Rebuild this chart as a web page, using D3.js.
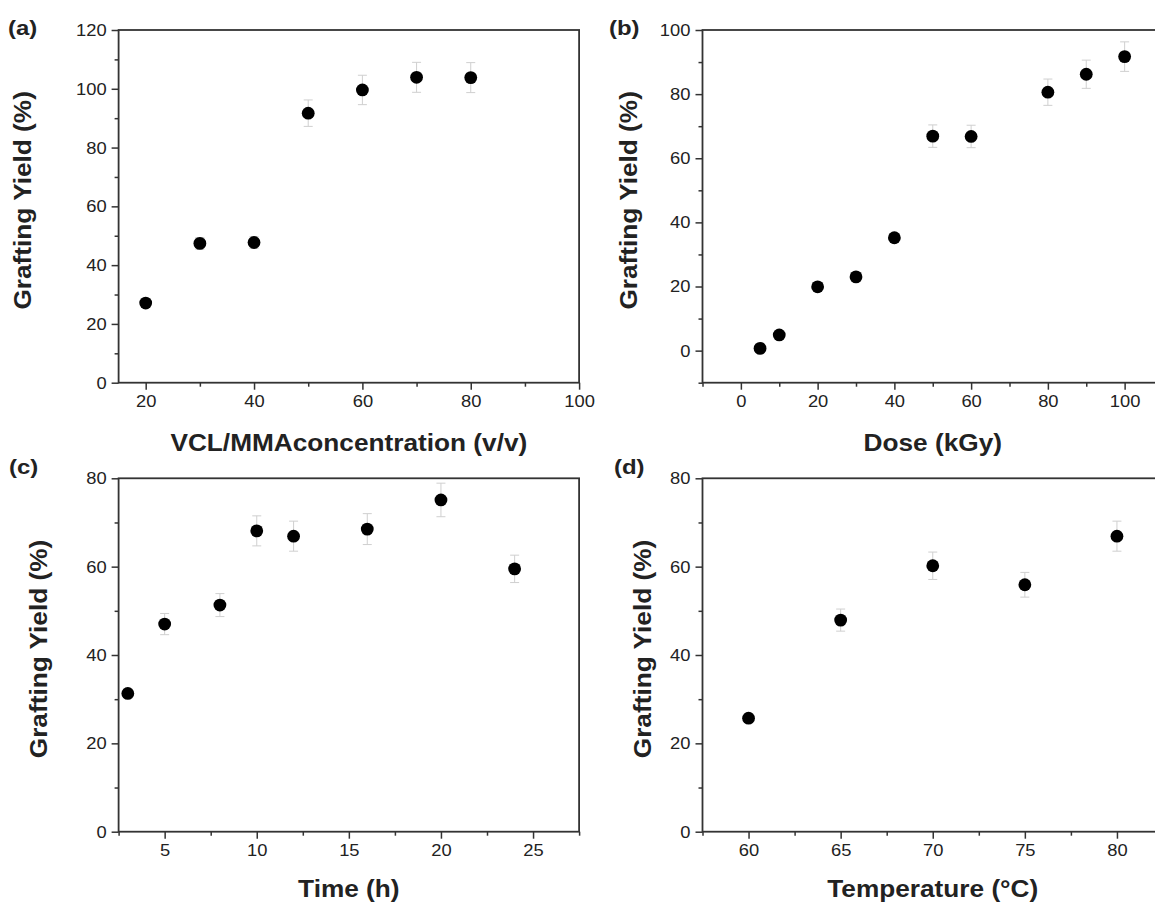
<!DOCTYPE html>
<html>
<head>
<meta charset="utf-8">
<script src="https://cdn.jsdelivr.net/npm/d3@7"></script>
<style>
    body { margin: 0; background: #fff; }
    svg text { font-family: "Liberation Sans", Arial, sans-serif; fill: #222; }
    .tick-label { font-size: 17px; }
    .axis-title { font-size: 23px; font-weight: bold; }
    .panel-label { font-size: 21px; font-weight: bold; }
</style>
</head>
<body>
<div id="chart"></div>
<script>
// (a) VCL/MMA concentration
let concX = [20, 30, 40, 50, 60, 70, 80];
let concY = [27.1, 47.4, 47.7, 91.7, 99.6, 103.9, 103.8];
let concErr = [1.5, 2, 2, 4.5, 5, 5.1, 5.1];

// (b) dose
let doseX = [5, 10, 20, 30, 40, 50, 60, 80, 90, 100];
let doseY = [0.7, 4.9, 19.9, 23.0, 35.2, 66.9, 66.8, 80.6, 86.2, 91.7];
let doseErr = [1, 1, 1, 1, 1, 3.5, 3.5, 4.1, 4.4, 4.6];

// (c) time
let timeX = [3, 5, 8, 10, 12, 16, 20, 24];
let timeY = [31.3, 47.0, 51.3, 68.1, 66.9, 68.5, 75.1, 59.5];
let timeErr = [1, 2.4, 2.6, 3.4, 3.4, 3.5, 3.8, 3.1];

// (d) temperature
let tempX = [60, 65, 70, 75, 80];
let tempY = [25.7, 47.9, 60.2, 55.9, 66.9];
let tempErr = [1, 2.5, 3.1, 2.8, 3.4];

// tick values
let concXTicks = [20, 40, 60, 80, 100], concXMinor = [30, 50, 70, 90];
let concYTicks = [0, 20, 40, 60, 80, 100, 120], concYMinor = [10, 30, 50, 70, 90, 110];
let doseXTicks = [0, 20, 40, 60, 80, 100], doseXMinor = [-10, 10, 30, 50, 70, 90, 110];
let doseYTicks = [0, 20, 40, 60, 80, 100], doseYMinor = [-10, 10, 30, 50, 70, 90];
let timeXTicks = [5, 10, 15, 20, 25], timeXMinor = [2.5, 7.5, 12.5, 17.5, 22.5, 27.5];
let yield80Ticks = [0, 20, 40, 60, 80], yield80Minor = [10, 30, 50, 70];
let tempXTicks = [60, 65, 70, 75, 80], tempXMinor = [57.5, 62.5, 67.5, 72.5, 77.5, 82.5];

let yTitle = "Grafting Yield (%)";

// the figure's lettering is wide, so stretch every text along its own direction
let stretch = 1.14, tickStretch = 1.08;

function widen(sel) {
    sel.each(function() {
        let t = d3.select(this);
        let x = +t.attr("x") || 0, y = +t.attr("y") || 0;
        t.attr("x", 0).attr("y", 0)
         .attr("transform", "translate(" + x + "," + y + ") scale(" + tickStretch + ",1)");
    });
}

class Panel {
    constructor(svg, opts) {
        this.svg = svg;
        this.o = opts;
    }

    draw() {
        let o = this.o;
        let g = this.svg.append("g")
            .attr("transform", "translate(" + o.left + "," + o.top + ")");

        let xScale = d3.scaleLinear().domain(o.xDomain).range([0, o.width]);
        let yScale = d3.scaleLinear().domain(o.yDomain).range([o.height, 0]);

        /** major + minor axes */
        let xAxis = d3.axisBottom(xScale).tickValues(o.xTicks).tickSize(7).tickSizeOuter(0).tickPadding(5);
        let xMinor = d3.axisBottom(xScale).tickValues(o.xMinor).tickSize(4).tickSizeOuter(0).tickFormat("");
        let yAxis = d3.axisLeft(yScale).tickValues(o.yTicks).tickSize(7).tickSizeOuter(0).tickPadding(5);
        let yMinor = d3.axisLeft(yScale).tickValues(o.yMinor).tickSize(4).tickSizeOuter(0).tickFormat("");

        let xg = g.append("g").attr("transform", "translate(0," + o.height + ")").call(xAxis);
        g.append("g").attr("transform", "translate(0," + o.height + ")").call(xMinor);
        let yg = g.append("g").call(yAxis);
        g.append("g").call(yMinor);

        g.selectAll(".domain").remove();
        g.selectAll(".tick line").attr("stroke", "#333").attr("stroke-width", 1.5);
        xg.attr("font-size", null).attr("font-family", null);
        yg.attr("font-size", null).attr("font-family", null);
        xg.selectAll("text").attr("class", "tick-label").call(widen);
        yg.selectAll("text").attr("class", "tick-label").call(widen);

        // frame
        g.append("rect")
            .attr("x", 0).attr("y", 0)
            .attr("width", o.width).attr("height", o.height)
            .attr("fill", "none")
            .attr("stroke", "#333")
            .attr("stroke-width", 1.8);

        let data = o.xs.map((x, i) => ({x: x, y: o.ys[i], e: o.errs[i]}));

        /** error bars */
        let eb = g.selectAll(".err").data(data).enter().append("g").attr("class", "err")
            .attr("stroke", "#cfcfcf").attr("stroke-width", 1);
        eb.append("line")
            .attr("x1", d => xScale(d.x)).attr("x2", d => xScale(d.x))
            .attr("y1", d => yScale(d.y + d.e)).attr("y2", d => yScale(d.y - d.e));
        eb.append("line")
            .attr("x1", d => xScale(d.x) - 4.5).attr("x2", d => xScale(d.x) + 4.5)
            .attr("y1", d => yScale(d.y + d.e)).attr("y2", d => yScale(d.y + d.e));
        eb.append("line")
            .attr("x1", d => xScale(d.x) - 4.5).attr("x2", d => xScale(d.x) + 4.5)
            .attr("y1", d => yScale(d.y - d.e)).attr("y2", d => yScale(d.y - d.e));

        /** points */
        g.selectAll(".pt").data(data).enter().append("circle")
            .attr("class", "pt")
            .attr("cx", d => xScale(d.x))
            .attr("cy", d => yScale(d.y))
            .attr("r", 6.4)
            .attr("fill", "#000");

        // titles
        g.append("text")
            .attr("class", "axis-title")
            .attr("text-anchor", "middle")
            .attr("transform", "translate(" + (o.width / 2) + "," + (o.height + o.titleDy) + ") scale(" + stretch + ",1)")
            .text(o.xTitle);

        g.append("text")
            .attr("class", "axis-title")
            .attr("text-anchor", "middle")
            .attr("transform", "translate(" + (-o.yTitleOffset) + "," + (o.height / 2 - 6) + ") rotate(-90) scale(" + stretch + ",1)")
            .text(yTitle);

        this.svg.append("text")
            .attr("class", "panel-label")
            .attr("transform", "translate(" + o.labelX + "," + o.labelY + ") scale(" + stretch + ",1)")
            .text(o.label);
    }
}

let svg = d3.select("#chart").append("svg")
    .attr("width", 1155)
    .attr("height", 903);

let plotW = 460.5;

new Panel(svg, {
    left: 118.6, top: 30, width: plotW, height: 352.7,
    xDomain: [15, 100], yDomain: [0, 120],
    xTicks: concXTicks, xMinor: concXMinor, yTicks: concYTicks, yMinor: concYMinor,
    xs: concX, ys: concY, errs: concErr,
    xTitle: "VCL/MMAconcentration (v/v)", titleDy: 68, yTitleOffset: 88,
    label: "(a)", labelX: 8, labelY: 35
}).draw();

new Panel(svg, {
    left: 702.5, top: 30, width: plotW, height: 352.7,
    xDomain: [-10, 110], yDomain: [-10, 100],
    xTicks: doseXTicks, xMinor: doseXMinor, yTicks: doseYTicks, yMinor: doseYMinor,
    xs: doseX, ys: doseY, errs: doseErr,
    xTitle: "Dose (kGy)", titleDy: 68, yTitleOffset: 66,
    label: "(b)", labelX: 609, labelY: 35
}).draw();

new Panel(svg, {
    left: 118.6, top: 478.3, width: plotW, height: 353.4,
    xDomain: [2.5, 27.5], yDomain: [0, 80],
    xTicks: timeXTicks, xMinor: timeXMinor, yTicks: yield80Ticks, yMinor: yield80Minor,
    xs: timeX, ys: timeY, errs: timeErr,
    xTitle: "Time (h)", titleDy: 65, yTitleOffset: 72,
    label: "(c)", labelX: 9, labelY: 474
}).draw();

new Panel(svg, {
    left: 702.5, top: 478.3, width: plotW, height: 353.4,
    xDomain: [57.5, 82.5], yDomain: [0, 80],
    xTicks: tempXTicks, xMinor: tempXMinor, yTicks: yield80Ticks, yMinor: yield80Minor,
    xs: tempX, ys: tempY, errs: tempErr,
    xTitle: "Temperature (°C)", titleDy: 65, yTitleOffset: 52,
    label: "(d)", labelX: 614, labelY: 474
}).draw();
</script>
</body>
</html>
